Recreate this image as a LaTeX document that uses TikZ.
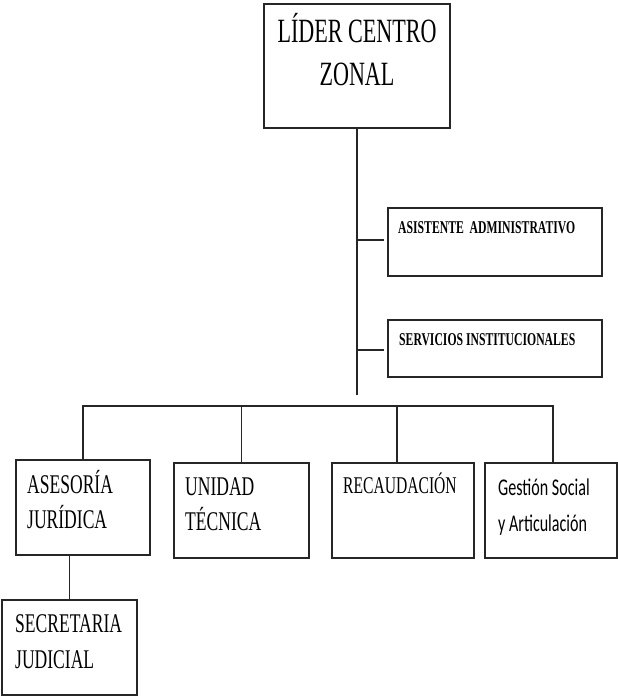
\documentclass[tikz,border=0pt]{standalone}
\usepackage{fontspec}
\newfontfamily\condserif{Liberation Serif}[FakeStretch=0.65]
\newfontfamily\condsans{Carlito}[FakeStretch=0.67]
\begin{document}
\begin{tikzpicture}[x=1pt,y=-1pt,
  box/.style={draw=black!85, line width=1.6pt, fill=white, inner sep=0pt},
  link/.style={draw=black!85, line width=1.6pt},
  lbl/.style={anchor=base west, inner sep=0pt, text=black},
  ttl/.style={anchor=base, inner sep=0pt, text=black}]
% canvas
\fill[white] (0,0) rectangle (618,696);
\useasboundingbox (0,0) rectangle (618,696);

% boxes (centre, width, height)
\node[box, minimum width=186pt, minimum height=124pt] (lider) at (357,66) {};
\node[box, minimum width=214pt, minimum height=68pt] (asist) at (495,242) {};
\node[box, minimum width=214pt, minimum height=57pt] (serv) at (495,348.5) {};
\node[box, minimum width=134pt, minimum height=95pt] (aj) at (83,507.5) {};
\node[box, minimum width=135pt, minimum height=95pt] (ut) at (241.5,510.5) {};
\node[box, minimum width=142pt, minimum height=95pt] (rc) at (403,510.5) {};
\node[box, minimum width=132pt, minimum height=95pt] (gs) at (551,510.5) {};
\node[box, minimum width=135pt, minimum height=95pt] (sj) at (69.5,647.5) {};

% texts
\node[ttl, font=\condserif\fontsize{34}{40}\selectfont] (lider1) at (357,42) {LÍDER CENTRO};
\node[ttl, font=\condserif\fontsize{34}{40}\selectfont] (lider2) at (357,85) {ZONAL};
\node[lbl, font=\condserif\bfseries\fontsize{18}{22}\selectfont] (asistt) at (398,233) {ASISTENTE\ \ ADMINISTRATIVO};
\node[lbl, font=\condserif\bfseries\fontsize{18}{22}\selectfont] (servt) at (399,345) {SERVICIOS INSTITUCIONALES};
\node[lbl, font=\condserif\fontsize{27}{32}\selectfont] (aj1) at (27,493) {ASESORÍA};
\node[lbl, font=\condserif\fontsize{27}{32}\selectfont] (aj2) at (27,528) {JURÍDICA};
\node[lbl, font=\condserif\fontsize{27}{32}\selectfont] (ut1) at (185,495) {UNIDAD};
\node[lbl, font=\condserif\fontsize{27}{32}\selectfont] (ut2) at (185,530) {TÉCNICA};
\node[lbl, font=\condserif\fontsize{24}{28}\selectfont] (rct) at (343,493) {RECAUDACIÓN};
\node[lbl, font=\condsans\fontsize{24}{28}\selectfont] (gs1) at (498,495) {Gestión Social};
\node[lbl, font=\condsans\fontsize{24}{28}\selectfont] (gs2) at (498,531) {y Articulación};
\node[lbl, font=\condserif\fontsize{27}{32}\selectfont] (sj1) at (15,632) {SECRETARIA};
\node[lbl, font=\condserif\fontsize{27}{32}\selectfont] (sj2) at (15,668) {JUDICIAL};

% connectors
\coordinate (trunkEnd) at (357,395);
\coordinate (bus) at (357,406);
\coordinate (asistTap) at (384,240);
\coordinate (servTap) at (384,350);
\draw[link] (lider.south) -- (trunkEnd);
\draw[link] (asistTap) -- (asistTap -| lider.south);
\draw[link] (servTap) -- (servTap -| lider.south);
\draw[link] (aj.north) |- (bus) -| ([xshift=2pt]gs.north);
\draw[link] (ut.north) -- (ut.north |- bus);
\draw[link] ([xshift=-6pt]rc.north) -- ([xshift=-6pt]rc.north |- bus);
\draw[link] (sj.north) -- (sj.north |- aj.south);
\end{tikzpicture}
\end{document}
